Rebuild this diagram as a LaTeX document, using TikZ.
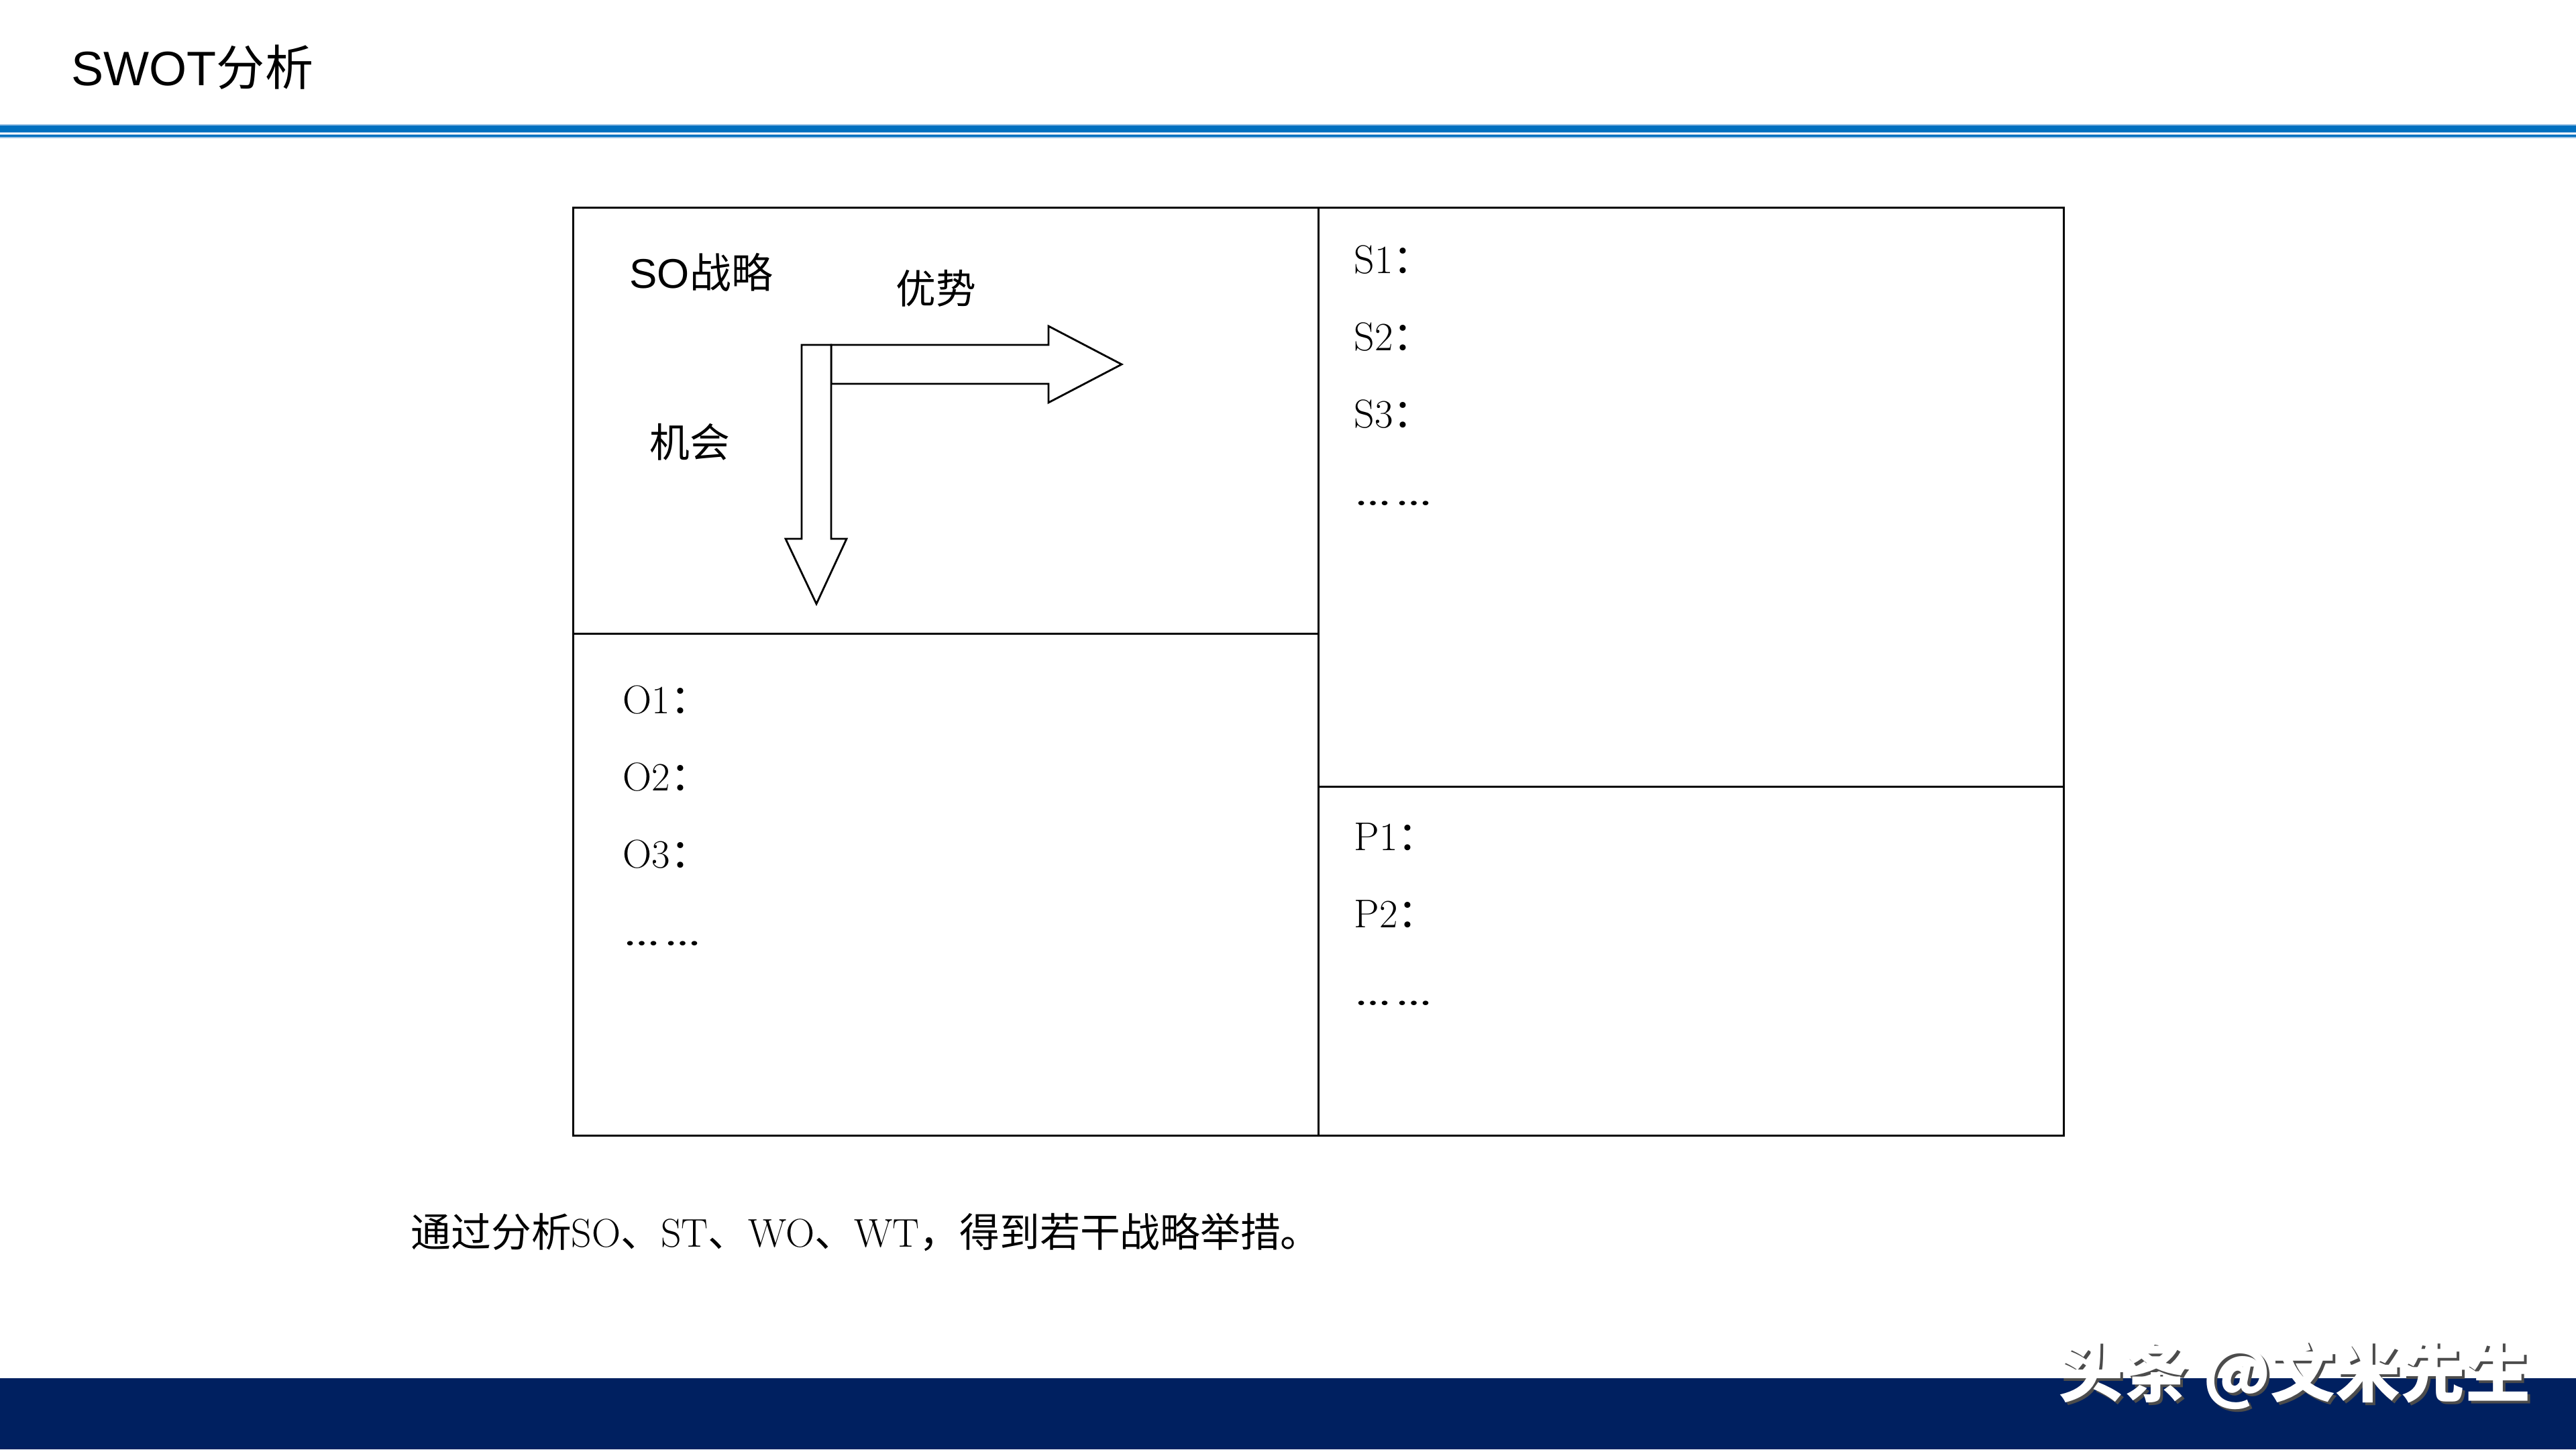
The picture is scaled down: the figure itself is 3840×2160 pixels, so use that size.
\documentclass[tikz,border=0pt]{standalone}
\usepackage{fontspec}
\usepackage{graphicx}
\newfontfamily\cjkfont{Noto Sans CJK SC}
\newfontfamily\headfont{Liberation Sans}
\newcommand{\zh}[1]{{\cjkfont #1}}
\newcommand{\moredots}{\scalebox{1.75}[1.35]{……}}
\definecolor{barblue}{HTML}{0070C0}
\definecolor{edgeblue}{HTML}{9DC3E6}
\definecolor{navy}{HTML}{002060}
\tikzset{
  cellline/.style={draw=black, line width=0.85pt},
  blockarrow/.style={draw=black, fill=white, line width=0.8pt, line join=miter},
  item/.style={anchor=base west, inner sep=0pt, font=\fontsize{17}{20}\selectfont},
  label/.style={anchor=base west, inner sep=0pt, font=\fontsize{17}{20}\selectfont\cjkfont},
}
\begin{document}
\begin{tikzpicture}[x=0.01cm, y=-0.01cm]
\useasboundingbox (0,0) rectangle (3840,2160);

% Header line and footer bar
\fill[edgeblue] (0,185) rectangle (3840,206);
\fill[white] (0,198) rectangle (3840,200);
\fill[barblue] (0,187) rectangle (3840,197);
\fill[barblue] (0,201) rectangle (3840,204);
\fill[navy] (0,2054) rectangle (3840,2160);
\node[anchor=base west, inner sep=0pt, font=\fontsize{20.5}{24}\selectfont] (title) at (106,127) {{\headfont SWOT}\zh{分析}};

% The grid
\draw[cellline] (854,309) rectangle (1965,944);
\draw[cellline] (854,944) rectangle (1965,1692);
\draw[cellline] (1965,309) rectangle (3076,1172);
\draw[cellline] (1965,1172) rectangle (3076,1692);

% SO cell with two block arrows
\node[anchor=base west, inner sep=0pt, font=\fontsize{17.6}{20}\selectfont] (so) at (938,429) {{\headfont SO}\zh{战略}};
\node[label] (adv) at (1335,452) {优势};
\node[label] (opp) at (968,681) {机会};
\draw[blockarrow] (1239,514) -- (1563,514) -- (1563,486) -- (1672,543) -- (1563,600) -- (1563,572) -- (1239,572) -- cycle;
\draw[blockarrow] (1195,514) -- (1239,514) -- (1239,803) -- (1262,803) -- (1217,900) -- (1171,803) -- (1195,803) -- cycle;

% Items
\node[item] (s1) at (2018,407) {S1\zh{：}};
\node[item] (s2) at (2018,522) {S2\zh{：}};
\node[item] (s3) at (2018,637) {S3\zh{：}};
\node[item] (sdots) at (2016,753) {\moredots};
\node[item] (o1) at (928,1063) {O1\zh{：}};
\node[item] (o2) at (928,1178) {O2\zh{：}};
\node[item] (o3) at (928,1293) {O3\zh{：}};
\node[item] (odots) at (926,1409) {\moredots};
\node[item] (p1) at (2018,1267) {P1\zh{：}};
\node[item] (p2) at (2018,1382) {P2\zh{：}};
\node[item] (pdots) at (2016,1498) {\moredots};

% Caption and watermark
\node[item] (note) at (612,1858) {\zh{通过分析}SO\zh{、}ST\zh{、}WO\zh{、}WT\zh{，得到若干战略举措。}};
\node[anchor=base west, inner sep=0pt, text=black!70, font=\fontsize{27.5}{30}\selectfont\cjkfont\bfseries] (markshadow) at (3072,2085) {头条 @文米先生};
\node[anchor=base west, inner sep=0pt, text=white, font=\fontsize{27.5}{30}\selectfont\cjkfont\bfseries] (mark) at (3068,2081) {头条 @文米先生};
\end{tikzpicture}
\end{document}
